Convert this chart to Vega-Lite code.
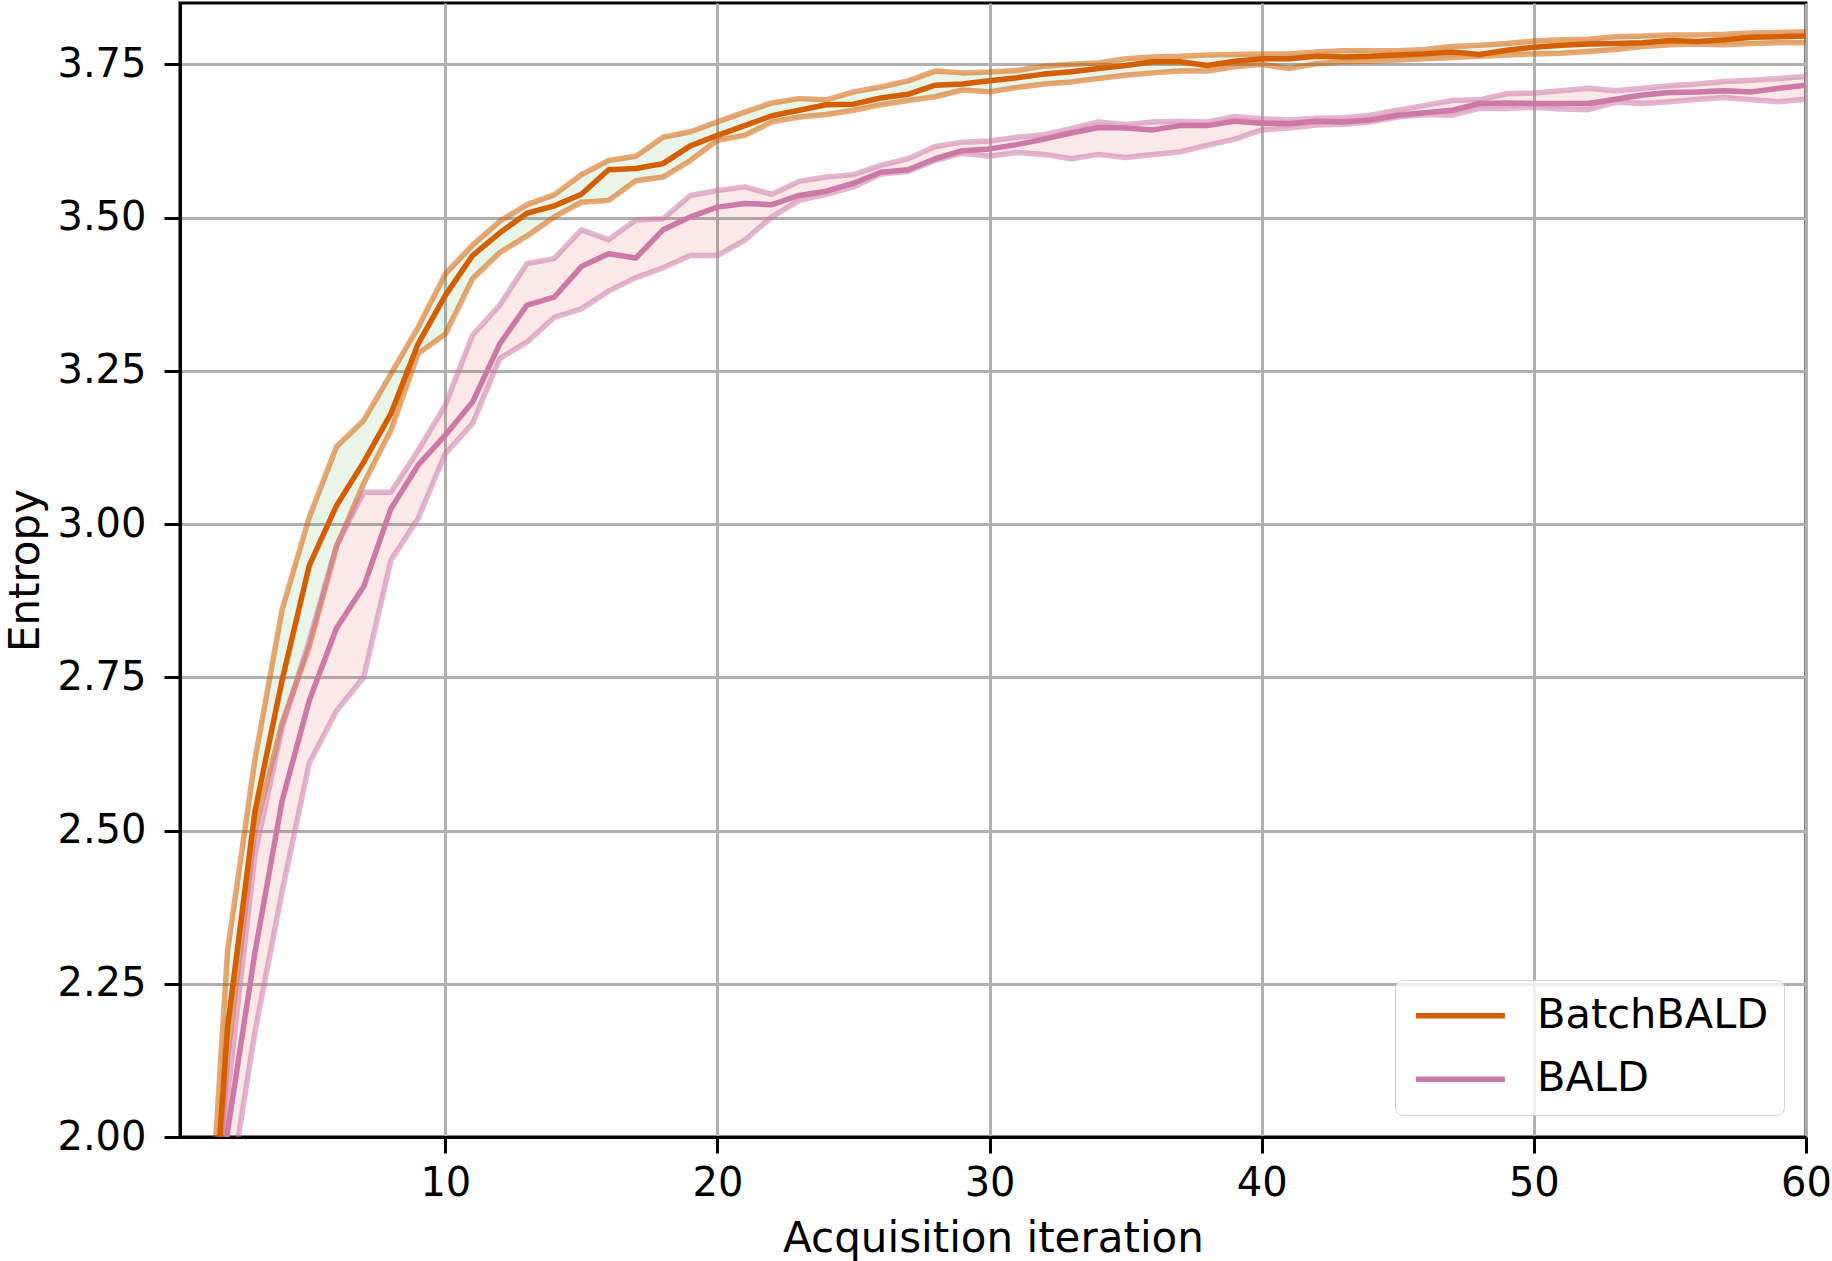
{
  "$schema": "https://vega.github.io/schema/vega-lite/v6.json",
  "width": 1626,
  "height": 1134,
  "autosize": "none",
  "padding": {"left": 180, "top": 3, "right": 26, "bottom": 124},
  "background": "white",
  "data": {
    "values": [
      {"method": "BatchBALD", "iteration": 1, "mean": 1.55, "lower": 1.55, "upper": 1.6},
      {"method": "BatchBALD", "iteration": 2, "mean": 2.18, "lower": 2.13, "upper": 2.305},
      {"method": "BatchBALD", "iteration": 3, "mean": 2.53, "lower": 2.5, "upper": 2.615},
      {"method": "BatchBALD", "iteration": 4, "mean": 2.745, "lower": 2.675, "upper": 2.86},
      {"method": "BatchBALD", "iteration": 5, "mean": 2.932, "lower": 2.8, "upper": 3.011},
      {"method": "BatchBALD", "iteration": 6, "mean": 3.03, "lower": 2.963, "upper": 3.126},
      {"method": "BatchBALD", "iteration": 7, "mean": 3.101, "lower": 3.066, "upper": 3.169},
      {"method": "BatchBALD", "iteration": 8, "mean": 3.18, "lower": 3.153, "upper": 3.245},
      {"method": "BatchBALD", "iteration": 9, "mean": 3.294, "lower": 3.278, "upper": 3.321},
      {"method": "BatchBALD", "iteration": 10, "mean": 3.373, "lower": 3.31, "upper": 3.408},
      {"method": "BatchBALD", "iteration": 11, "mean": 3.438, "lower": 3.4, "upper": 3.455},
      {"method": "BatchBALD", "iteration": 12, "mean": 3.475, "lower": 3.443, "upper": 3.494},
      {"method": "BatchBALD", "iteration": 13, "mean": 3.507, "lower": 3.47, "upper": 3.521},
      {"method": "BatchBALD", "iteration": 14, "mean": 3.519, "lower": 3.501, "upper": 3.537},
      {"method": "BatchBALD", "iteration": 15, "mean": 3.538, "lower": 3.525, "upper": 3.57},
      {"method": "BatchBALD", "iteration": 16, "mean": 3.578, "lower": 3.528, "upper": 3.593},
      {"method": "BatchBALD", "iteration": 17, "mean": 3.58, "lower": 3.56, "upper": 3.6},
      {"method": "BatchBALD", "iteration": 18, "mean": 3.588, "lower": 3.566, "upper": 3.631},
      {"method": "BatchBALD", "iteration": 19, "mean": 3.617, "lower": 3.593, "upper": 3.64},
      {"method": "BatchBALD", "iteration": 20, "mean": 3.634, "lower": 3.626, "upper": 3.656},
      {"method": "BatchBALD", "iteration": 21, "mean": 3.65, "lower": 3.634, "upper": 3.672},
      {"method": "BatchBALD", "iteration": 22, "mean": 3.666, "lower": 3.656, "upper": 3.687},
      {"method": "BatchBALD", "iteration": 23, "mean": 3.675, "lower": 3.664, "upper": 3.694},
      {"method": "BatchBALD", "iteration": 24, "mean": 3.684, "lower": 3.668, "upper": 3.692},
      {"method": "BatchBALD", "iteration": 25, "mean": 3.685, "lower": 3.675, "upper": 3.705},
      {"method": "BatchBALD", "iteration": 26, "mean": 3.695, "lower": 3.684, "upper": 3.713},
      {"method": "BatchBALD", "iteration": 27, "mean": 3.701, "lower": 3.691, "upper": 3.723},
      {"method": "BatchBALD", "iteration": 28, "mean": 3.716, "lower": 3.697, "upper": 3.739},
      {"method": "BatchBALD", "iteration": 29, "mean": 3.718, "lower": 3.708, "upper": 3.736},
      {"method": "BatchBALD", "iteration": 30, "mean": 3.723, "lower": 3.705, "upper": 3.7375},
      {"method": "BatchBALD", "iteration": 31, "mean": 3.728, "lower": 3.712, "upper": 3.74},
      {"method": "BatchBALD", "iteration": 32, "mean": 3.734, "lower": 3.718, "upper": 3.747},
      {"method": "BatchBALD", "iteration": 33, "mean": 3.738, "lower": 3.721, "upper": 3.75},
      {"method": "BatchBALD", "iteration": 34, "mean": 3.743, "lower": 3.727, "upper": 3.752},
      {"method": "BatchBALD", "iteration": 35, "mean": 3.748, "lower": 3.732, "upper": 3.759},
      {"method": "BatchBALD", "iteration": 36, "mean": 3.754, "lower": 3.736, "upper": 3.762},
      {"method": "BatchBALD", "iteration": 37, "mean": 3.754, "lower": 3.739, "upper": 3.763},
      {"method": "BatchBALD", "iteration": 38, "mean": 3.748, "lower": 3.739, "upper": 3.765},
      {"method": "BatchBALD", "iteration": 39, "mean": 3.755, "lower": 3.746, "upper": 3.766},
      {"method": "BatchBALD", "iteration": 40, "mean": 3.759, "lower": 3.75, "upper": 3.767},
      {"method": "BatchBALD", "iteration": 41, "mean": 3.759, "lower": 3.743, "upper": 3.767},
      {"method": "BatchBALD", "iteration": 42, "mean": 3.763, "lower": 3.751, "upper": 3.77},
      {"method": "BatchBALD", "iteration": 43, "mean": 3.762, "lower": 3.754, "upper": 3.772},
      {"method": "BatchBALD", "iteration": 44, "mean": 3.763, "lower": 3.755, "upper": 3.772},
      {"method": "BatchBALD", "iteration": 45, "mean": 3.765, "lower": 3.757, "upper": 3.772},
      {"method": "BatchBALD", "iteration": 46, "mean": 3.767, "lower": 3.759, "upper": 3.774},
      {"method": "BatchBALD", "iteration": 47, "mean": 3.77, "lower": 3.761, "upper": 3.779},
      {"method": "BatchBALD", "iteration": 48, "mean": 3.766, "lower": 3.763, "upper": 3.781},
      {"method": "BatchBALD", "iteration": 49, "mean": 3.773, "lower": 3.765, "upper": 3.784},
      {"method": "BatchBALD", "iteration": 50, "mean": 3.778, "lower": 3.767, "upper": 3.788},
      {"method": "BatchBALD", "iteration": 51, "mean": 3.781, "lower": 3.768, "upper": 3.79},
      {"method": "BatchBALD", "iteration": 52, "mean": 3.783, "lower": 3.771, "upper": 3.791},
      {"method": "BatchBALD", "iteration": 53, "mean": 3.784, "lower": 3.774, "upper": 3.795},
      {"method": "BatchBALD", "iteration": 54, "mean": 3.785, "lower": 3.779, "upper": 3.796},
      {"method": "BatchBALD", "iteration": 55, "mean": 3.789, "lower": 3.782, "upper": 3.798},
      {"method": "BatchBALD", "iteration": 56, "mean": 3.787, "lower": 3.783, "upper": 3.798},
      {"method": "BatchBALD", "iteration": 57, "mean": 3.79, "lower": 3.782, "upper": 3.799},
      {"method": "BatchBALD", "iteration": 58, "mean": 3.794, "lower": 3.784, "upper": 3.801},
      {"method": "BatchBALD", "iteration": 59, "mean": 3.795, "lower": 3.785, "upper": 3.802},
      {"method": "BatchBALD", "iteration": 60, "mean": 3.796, "lower": 3.785, "upper": 3.803},
      {"method": "BALD", "iteration": 1, "mean": 1.6, "lower": 1.5, "upper": 1.7},
      {"method": "BALD", "iteration": 2, "mean": 2.01, "lower": 1.89, "upper": 2.07},
      {"method": "BALD", "iteration": 3, "mean": 2.3, "lower": 2.17, "upper": 2.46},
      {"method": "BALD", "iteration": 4, "mean": 2.548, "lower": 2.4, "upper": 2.668},
      {"method": "BALD", "iteration": 5, "mean": 2.712, "lower": 2.61, "upper": 2.81},
      {"method": "BALD", "iteration": 6, "mean": 2.83, "lower": 2.695, "upper": 2.965},
      {"method": "BALD", "iteration": 7, "mean": 2.898, "lower": 2.75, "upper": 3.052},
      {"method": "BALD", "iteration": 8, "mean": 3.025, "lower": 2.941, "upper": 3.052},
      {"method": "BALD", "iteration": 9, "mean": 3.096, "lower": 3.009, "upper": 3.12},
      {"method": "BALD", "iteration": 10, "mean": 3.145, "lower": 3.115, "upper": 3.194},
      {"method": "BALD", "iteration": 11, "mean": 3.199, "lower": 3.164, "upper": 3.308},
      {"method": "BALD", "iteration": 12, "mean": 3.294, "lower": 3.27, "upper": 3.357},
      {"method": "BALD", "iteration": 13, "mean": 3.357, "lower": 3.297, "upper": 3.425},
      {"method": "BALD", "iteration": 14, "mean": 3.37, "lower": 3.337, "upper": 3.433},
      {"method": "BALD", "iteration": 15, "mean": 3.42, "lower": 3.351, "upper": 3.48},
      {"method": "BALD", "iteration": 16, "mean": 3.441, "lower": 3.38, "upper": 3.464},
      {"method": "BALD", "iteration": 17, "mean": 3.434, "lower": 3.402, "upper": 3.496},
      {"method": "BALD", "iteration": 18, "mean": 3.48, "lower": 3.418, "upper": 3.498},
      {"method": "BALD", "iteration": 19, "mean": 3.501, "lower": 3.438, "upper": 3.536},
      {"method": "BALD", "iteration": 20, "mean": 3.517, "lower": 3.438, "upper": 3.544},
      {"method": "BALD", "iteration": 21, "mean": 3.523, "lower": 3.463, "upper": 3.55},
      {"method": "BALD", "iteration": 22, "mean": 3.521, "lower": 3.501, "upper": 3.538},
      {"method": "BALD", "iteration": 23, "mean": 3.536, "lower": 3.528, "upper": 3.559},
      {"method": "BALD", "iteration": 24, "mean": 3.543, "lower": 3.538, "upper": 3.566},
      {"method": "BALD", "iteration": 25, "mean": 3.556, "lower": 3.55, "upper": 3.57},
      {"method": "BALD", "iteration": 26, "mean": 3.574, "lower": 3.571, "upper": 3.585},
      {"method": "BALD", "iteration": 27, "mean": 3.578, "lower": 3.575, "upper": 3.596},
      {"method": "BALD", "iteration": 28, "mean": 3.596, "lower": 3.593, "upper": 3.616},
      {"method": "BALD", "iteration": 29, "mean": 3.609, "lower": 3.605, "upper": 3.623},
      {"method": "BALD", "iteration": 30, "mean": 3.612, "lower": 3.6, "upper": 3.625},
      {"method": "BALD", "iteration": 31, "mean": 3.619, "lower": 3.606, "upper": 3.631},
      {"method": "BALD", "iteration": 32, "mean": 3.628, "lower": 3.603, "upper": 3.635},
      {"method": "BALD", "iteration": 33, "mean": 3.638, "lower": 3.596, "upper": 3.645},
      {"method": "BALD", "iteration": 34, "mean": 3.647, "lower": 3.603, "upper": 3.656},
      {"method": "BALD", "iteration": 35, "mean": 3.646, "lower": 3.598, "upper": 3.652},
      {"method": "BALD", "iteration": 36, "mean": 3.643, "lower": 3.603, "upper": 3.656},
      {"method": "BALD", "iteration": 37, "mean": 3.65, "lower": 3.607, "upper": 3.657},
      {"method": "BALD", "iteration": 38, "mean": 3.65, "lower": 3.618, "upper": 3.656},
      {"method": "BALD", "iteration": 39, "mean": 3.657, "lower": 3.628, "upper": 3.665},
      {"method": "BALD", "iteration": 40, "mean": 3.654, "lower": 3.643, "upper": 3.661},
      {"method": "BALD", "iteration": 41, "mean": 3.653, "lower": 3.646, "upper": 3.659},
      {"method": "BALD", "iteration": 42, "mean": 3.657, "lower": 3.651, "upper": 3.662},
      {"method": "BALD", "iteration": 43, "mean": 3.656, "lower": 3.652, "upper": 3.663},
      {"method": "BALD", "iteration": 44, "mean": 3.659, "lower": 3.656, "upper": 3.667},
      {"method": "BALD", "iteration": 45, "mean": 3.667, "lower": 3.664, "upper": 3.675},
      {"method": "BALD", "iteration": 46, "mean": 3.671, "lower": 3.668, "upper": 3.683},
      {"method": "BALD", "iteration": 47, "mean": 3.675, "lower": 3.667, "upper": 3.691},
      {"method": "BALD", "iteration": 48, "mean": 3.686, "lower": 3.678, "upper": 3.692},
      {"method": "BALD", "iteration": 49, "mean": 3.687, "lower": 3.678, "upper": 3.702},
      {"method": "BALD", "iteration": 50, "mean": 3.686, "lower": 3.68, "upper": 3.703},
      {"method": "BALD", "iteration": 51, "mean": 3.686, "lower": 3.677, "upper": 3.707},
      {"method": "BALD", "iteration": 52, "mean": 3.686, "lower": 3.676, "upper": 3.711},
      {"method": "BALD", "iteration": 53, "mean": 3.693, "lower": 3.688, "upper": 3.707},
      {"method": "BALD", "iteration": 54, "mean": 3.7, "lower": 3.686, "upper": 3.711},
      {"method": "BALD", "iteration": 55, "mean": 3.704, "lower": 3.689, "upper": 3.715},
      {"method": "BALD", "iteration": 56, "mean": 3.705, "lower": 3.693, "upper": 3.718},
      {"method": "BALD", "iteration": 57, "mean": 3.707, "lower": 3.696, "upper": 3.722},
      {"method": "BALD", "iteration": 58, "mean": 3.705, "lower": 3.692, "upper": 3.724},
      {"method": "BALD", "iteration": 59, "mean": 3.711, "lower": 3.689, "upper": 3.727},
      {"method": "BALD", "iteration": 60, "mean": 3.716, "lower": 3.693, "upper": 3.73}
    ]
  },
  "encoding": {
    "x": {
      "field": "iteration",
      "type": "quantitative",
      "scale": {"domain": [0.25, 60], "nice": false, "zero": false},
      "axis": {
        "title": "Acquisition iteration",
        "values": [10, 20, 30, 40, 50, 60],
        "labelPadding": 10,
        "titlePadding": 15
      }
    }
  },
  "layer": [
    {
      "mark": {"type": "area", "clip": true, "fillOpacity": 0.1, "stroke": null},
      "encoding": {
        "y": {"field": "lower", "type": "quantitative", "scale": {"domain": [2, 3.85], "nice": false, "zero": false}},
        "y2": {"field": "upper"},
        "detail": {"field": "method"},
        "fill": {
          "condition": {"test": "datum.method == 'BatchBALD'", "value": "#2ca02c"},
          "value": "#d62728"
        }
      }
    },
    {
      "transform": [{"fold": ["lower", "upper"], "as": ["bound", "value"]}],
      "mark": {"type": "line", "clip": true, "strokeWidth": 5.5, "opacity": 0.55, "strokeJoin": "round"},
      "encoding": {
        "y": {"field": "value", "type": "quantitative"},
        "detail": [{"field": "method"}, {"field": "bound"}],
        "stroke": {
          "condition": {"test": "datum.method == 'BatchBALD'", "value": "#d55e00"},
          "value": "#cc79a7"
        }
      }
    },
    {
      "mark": {"type": "line", "clip": true, "strokeWidth": 5.5, "strokeJoin": "round"},
      "encoding": {
        "y": {
          "field": "mean",
          "type": "quantitative",
          "axis": {
            "title": "Entropy",
            "values": [2, 2.25, 2.5, 2.75, 3, 3.25, 3.5, 3.75],
            "format": ".2f",
            "labelPadding": 18,
            "titlePadding": 9
          }
        },
        "color": {
          "field": "method",
          "type": "nominal",
          "scale": {"domain": ["BatchBALD", "BALD"], "range": ["#d55e00", "#cc79a7"]},
          "legend": {
            "title": null,
            "orient": "bottom-right",
            "offset": 22,
            "symbolType": "M-1,0H5",
            "symbolSize": 880,
            "symbolStrokeWidth": 5.5,
            "labelOffset": 85.5,
            "rowPadding": 20.5,
            "padding": 15,
            "strokeColor": "#d4d4d4",
            "fillColor": "rgba(255,255,255,0.8)",
            "cornerRadius": 8
          }
        }
      }
    }
  ],
  "config": {
    "font": "DejaVu Sans",
    "view": {"stroke": "black", "strokeWidth": 3},
    "axis": {
      "domainColor": "black",
      "domainWidth": 3,
      "tickColor": "black",
      "tickWidth": 3,
      "tickSize": 16,
      "gridColor": "#b0b0b0",
      "gridWidth": 3,
      "gridOpacity": 1,
      "labelFont": "DejaVu Sans",
      "labelFontSize": 40,
      "labelColor": "black",
      "labelFlush": false,
      "labelOverlap": false,
      "titleFont": "DejaVu Sans",
      "titleFontSize": 42,
      "titleFontWeight": "normal",
      "titleColor": "black"
    },
    "legend": {
      "labelFont": "DejaVu Sans",
      "labelFontSize": 41.5,
      "labelColor": "black",
      "labelLimit": 400
    }
  }
}
